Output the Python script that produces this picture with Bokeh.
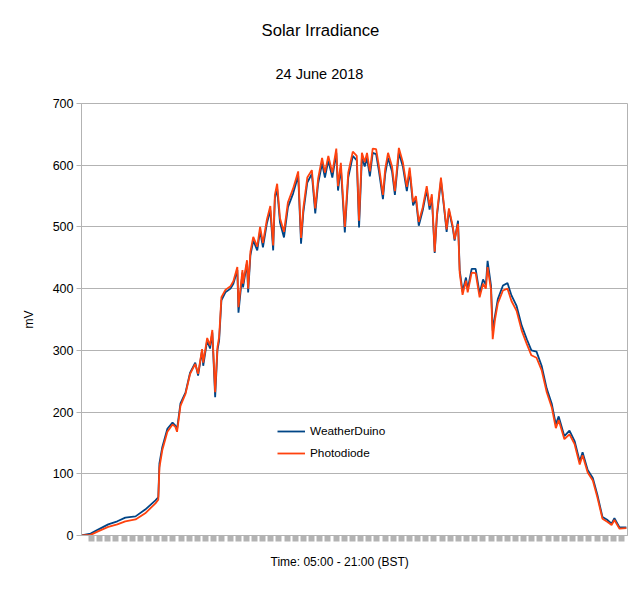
from bokeh.plotting import figure
from bokeh.models import Range1d, FixedTicker, Legend, LegendItem, ColumnDataSource, Title
from bokeh.embed import file_html
from bokeh.resources import INLINE

title_text = "Solar Irradiance"
subtitle_text = "24 June 2018"
x_title = "Time: 05:00 - 21:00 (BST)"
y_title = "mV"
series_names = ["WeatherDuino", "Photodiode"]
y_ticks = [0, 100, 200, 300, 400, 500, 600, 700]

times = ["05:00", "05:16", "05:30", "05:47", "06:03", "06:17", "06:35", "06:52", "07:10", "07:15",
         "07:17", "07:22", "07:31", "07:40", "07:45", "07:48", "07:54", "08:03", "08:11", "08:20",
         "08:25", "08:32", "08:34", "08:41", "08:46", "08:50", "08:55", "08:59", "09:02", "09:06",
         "09:13", "09:22", "09:27", "09:34", "09:36", "09:43", "09:44", "09:51", "09:53", "09:57",
         "10:02", "10:09", "10:14", "10:19", "10:26", "10:32", "10:37", "10:40", "10:44", "10:49",
         "10:56", "11:03", "11:12", "11:21", "11:26", "11:30", "11:37", "11:45", "11:51", "11:56",
         "12:03", "12:08", "12:14", "12:21", "12:28", "12:31", "12:36", "12:43", "12:49", "12:57",
         "13:04", "13:08", "13:13", "13:18", "13:22", "13:27", "13:32", "13:38", "13:43", "13:50",
         "13:54", "13:59", "14:06", "14:11", "14:18", "14:25", "14:32", "14:37", "14:43", "14:48",
         "14:53", "15:00", "15:07", "15:12", "15:16", "15:21", "15:25", "15:32", "15:37", "15:42",
         "15:46", "15:53", "15:56", "16:02", "16:05", "16:10", "16:16", "16:19", "16:26", "16:33",
         "16:40", "16:46", "16:51", "16:54", "17:00", "17:03", "17:07", "17:12", "17:21", "17:29",
         "17:36", "17:45", "17:54", "18:03", "18:11", "18:20", "18:29", "18:38", "18:47", "18:54",
         "18:59", "19:09", "19:18", "19:27", "19:36", "19:41", "19:50", "19:59", "20:07", "20:16",
         "20:25", "20:32", "20:37", "20:46", "20:58"]

weatherduino = [0, 3, 10, 18, 23, 29, 31, 42, 57, 62,
                117, 143, 173, 183, 178, 172, 214, 232, 264, 280,
                259, 300, 275, 316, 303, 329, 224, 300, 316, 381,
                394, 400, 408, 430, 361, 426, 402, 442, 394, 454,
                478, 462, 494, 467, 506, 527, 462, 546, 562, 507,
                483, 532, 554, 583, 473, 523, 572, 586, 522, 570,
                603, 580, 608, 580, 620, 559, 596, 491, 580, 615,
                608, 499, 612, 598, 612, 582, 620, 618, 590, 545,
                586, 612, 590, 552, 620, 598, 558, 590, 535, 545,
                502, 527, 560, 528, 548, 458, 518, 575, 535, 492,
                527, 497, 478, 510, 430, 395, 418, 399, 432, 432,
                392, 415, 406, 445, 405, 332, 356, 383, 405, 409,
                389, 372, 340, 318, 300, 298, 275, 238, 213, 180,
                193, 161, 170, 153, 120, 135, 106, 93, 66, 30,
                25, 19, 28, 13, 13]

photodiode = [0, 1, 7, 14, 18, 23, 26, 36, 52, 58,
              110, 138, 168, 180, 176, 168, 210, 230, 262, 278,
              262, 302, 280, 320, 308, 333, 232, 305, 322, 386,
              398, 404, 412, 435, 370, 430, 408, 446, 400, 460,
              484, 468, 500, 474, 512, 534, 470, 552, 570, 514,
              492, 540, 562, 590, 482, 530, 580, 592, 530, 578,
              612, 588, 615, 588, 627, 566, 604, 500, 588, 622,
              615, 510, 620, 605, 620, 590, 627, 626, 598, 552,
              594, 620, 598, 558, 628, 605, 565, 596, 540, 550,
              508, 532, 566, 534, 553, 460, 522, 580, 538, 496,
              530, 500, 480, 505, 425, 390, 413, 394, 426, 425,
              386, 408, 400, 435, 398, 318, 350, 376, 397, 400,
              380, 364, 332, 310, 292, 288, 268, 232, 207, 174,
              187, 156, 164, 148, 115, 130, 102, 89, 62, 27,
              22, 17, 25, 11, 12]


def to_minutes(t):
    h, m = t.split(":")
    return (int(h) - 5) * 60 + int(m)


minutes = [to_minutes(t) for t in times]
src = ColumnDataSource(dict(x=minutes, b=weatherduino, r=photodiode))

W, H = 640, 591
p = figure(width=W, height=H, output_backend="svg", toolbar_location=None,
           x_range=Range1d(0, 960), y_range=Range1d(0, 700),
           min_border_left=81, min_border_right=13, min_border_top=103, min_border_bottom=56)
p.background_fill_color = "white"
p.border_fill_color = "white"
p.outline_line_color = "#b3b3b3"
p.outline_line_width = 1

grey = "#b3b3b3"
font = "Liberation Sans"

# y axis
p.yaxis.ticker = FixedTicker(ticks=y_ticks)
p.yaxis.axis_line_color = grey
p.yaxis.major_tick_line_color = grey
p.yaxis.major_tick_in = 0
p.yaxis.major_tick_out = 5
p.yaxis.minor_tick_line_color = None
p.yaxis.major_label_standoff = 3
p.yaxis.major_label_text_font = font
p.yaxis.major_label_text_font_size = "12.5px"
p.yaxis.major_label_text_color = "black"
p.yaxis.axis_label = y_title
p.yaxis.axis_label_text_font = font
p.yaxis.axis_label_text_font_size = "12px"
p.yaxis.axis_label_text_font_style = "normal"
p.yaxis.axis_label_text_color = "black"
p.yaxis.axis_label_standoff = 14

# x axis: dense category-style ticks, no labels
xt = [17.4 + 14.34 * k for k in range(66)]
p.xaxis.ticker = FixedTicker(ticks=xt)
p.xaxis.axis_line_color = grey
p.xaxis.major_tick_line_color = grey
p.xaxis.major_tick_line_width = 6
p.xaxis.major_tick_in = 0
p.xaxis.major_tick_out = 6
p.xaxis.minor_tick_line_color = None
p.xaxis.major_label_text_font_size = "1px"
p.xaxis.major_label_text_alpha = 0
p.xaxis.major_label_standoff = 0

p.xgrid.grid_line_color = None
p.ygrid.ticker = FixedTicker(ticks=y_ticks)
p.ygrid.grid_line_color = grey
p.ygrid.grid_line_width = 1

lb = p.line("x", "b", source=src, line_color="#004586", line_width=1.8)
lr = p.line("x", "r", source=src, line_color="#ff420e", line_width=1.8)

legend = Legend(items=[LegendItem(label=series_names[0], renderers=[lb]),
                       LegendItem(label=series_names[1], renderers=[lr])],
                location=(196, 72), orientation="vertical",
                glyph_width=28, glyph_height=20, label_height=20, label_standoff=5,
                spacing=2, padding=0, margin=0,
                label_text_font=font, label_text_font_size="11.8px", label_text_color="black",
                background_fill_alpha=0, border_line_alpha=0)
p.add_layout(legend, "center")

p.add_layout(Title(text=subtitle_text, align="left", offset=194, standoff=44,
                   text_font=font, text_font_size="14.5px", text_font_style="normal",
                   text_color="black"), "above")
p.add_layout(Title(text=title_text, align="left", offset=180, standoff=3,
                   text_font=font, text_font_size="16.7px", text_font_style="normal",
                   text_color="black"), "above")
p.add_layout(Title(text=x_title, align="left", offset=189, standoff=22,
                   text_font=font, text_font_size="12px", text_font_style="normal",
                   text_color="black"), "below")

open("out.html", "w").write(file_html(p, INLINE))
